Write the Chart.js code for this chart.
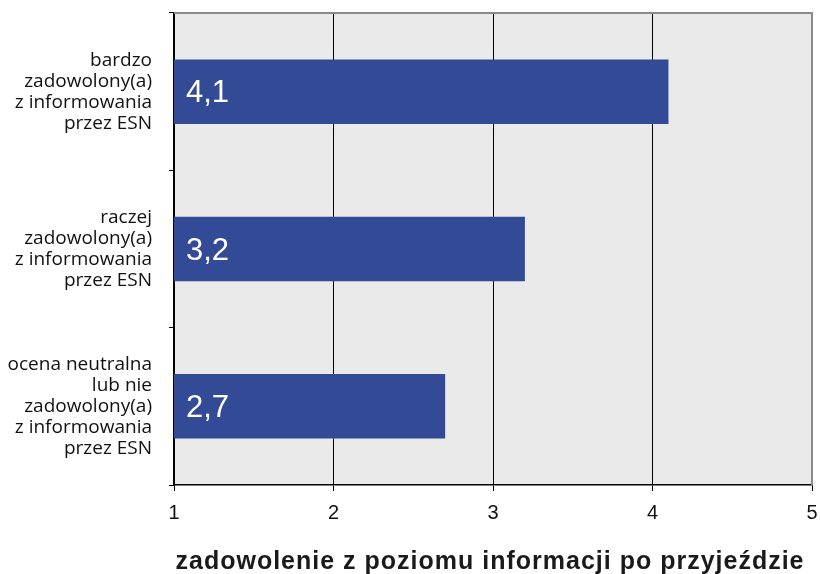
<!DOCTYPE html>
<html>
<head>
<meta charset="utf-8">
<script src="https://cdn.jsdelivr.net/npm/chart.js@4"></script>
<style>
  html, body { margin: 0; padding: 0; background: #fff; }
  #wrap { width: 820px; height: 574px; }
</style>
</head>
<body>
<div id="wrap"><canvas id="myChart" width="820" height="574"></canvas></div>
<script>
// data
const categories = [
    ['bardzo', 'zadowolony(a)', 'z informowania', 'przez ESN'],
    ['raczej', 'zadowolony(a)', 'z informowania', 'przez ESN'],
    ['ocena neutralna', 'lub nie', 'zadowolony(a)', 'z informowania', 'przez ESN']
];
const scores = [4.1, 3.2, 2.7];
const xTicks = [1, 2, 3, 4, 5];
const axisTitle = 'zadowolenie z poziomu informacji po przyjeździe';

const barColor = '#334a96';

// grey plot background + grey top/right frame
const plotFrame = {
    id: 'plotFrame',
    beforeDraw(chart) {
        const { ctx, chartArea: a } = chart;
        ctx.save();
        ctx.fillStyle = '#eaeaea';
        ctx.fillRect(a.left, a.top, a.right - a.left, a.bottom - a.top);
        ctx.restore();
    },
    afterDraw(chart) {
        const { ctx, chartArea: a } = chart;
        ctx.save();
        ctx.strokeStyle = '#8a8a8a';
        ctx.lineWidth = 2;
        ctx.beginPath();
        ctx.moveTo(a.left, a.top);
        ctx.lineTo(a.right, a.top);
        ctx.lineTo(a.right, a.bottom);
        ctx.stroke();
        ctx.restore();
    }
};

// "4,1" etc. written inside the bars
const barValues = {
    id: 'barValues',
    afterDatasetsDraw(chart) {
        const { ctx, chartArea } = chart;
        const meta = chart.getDatasetMeta(0);
        ctx.save();
        ctx.fillStyle = '#ffffff';
        ctx.font = '31px "Liberation Sans", Arial, sans-serif';
        ctx.textAlign = 'left';
        ctx.textBaseline = 'middle';
        meta.data.forEach((bar, i) => {
            const txt = scores[i].toFixed(1).replace('.', ',');
            ctx.fillText(txt, chartArea.left + 12, bar.y + 2);
        });
        ctx.restore();
    }
};

// bold, slightly spaced axis title
const bottomTitle = {
    id: 'bottomTitle',
    afterDraw(chart) {
        const { ctx } = chart;
        ctx.save();
        ctx.fillStyle = '#1a1a1a';
        ctx.font = 'bold 25px "Liberation Sans", Arial, sans-serif';
        ctx.letterSpacing = '1px';
        ctx.textAlign = 'center';
        ctx.textBaseline = 'alphabetic';
        ctx.fillText(axisTitle, 490, 569);
        ctx.restore();
    }
};

const ctx = document.getElementById('myChart').getContext('2d');
new Chart(ctx, {
    type: 'bar',
    data: {
        labels: categories,
        datasets: [{
            data: scores,
            backgroundColor: barColor,
            borderWidth: 0,
            barPercentage: 0.41,
            categoryPercentage: 1
        }]
    },
    options: {
        indexAxis: 'y',
        responsive: false,
        animation: false,
        layout: { padding: { top: 13, right: 8, left: 0, bottom: 0 } },
        plugins: {
            legend: { display: false },
            tooltip: { enabled: false },
            title: { display: false }
        },
        scales: {
            x: {
                min: 1,
                max: 5,
                afterBuildTicks(scale) {
                    scale.ticks = xTicks.map(v => ({ value: v }));
                },
                afterFit(scale) {
                    scale.height = 89;
                    scale.paddingLeft = 0;
                    scale.paddingRight = 0;
                },
                ticks: {
                    color: '#111',
                    padding: 10,
                    font: { family: '"Liberation Sans", Arial, sans-serif', size: 20 }
                },
                grid: {
                    color: c => (c.tick && c.tick.value === 5) ? '#8a8a8a' : '#000',
                    tickColor: '#000',
                    tickLength: 6,
                    lineWidth: 1
                },
                border: { color: '#000', width: 1.5 }
            },
            y: {
                afterFit(scale) {
                    scale.width = 174;
                    scale.paddingTop = 0;
                    scale.paddingBottom = 0;
                },
                ticks: {
                    color: '#111',
                    padding: 17,
                    font: { family: '"Open Sans", sans-serif', size: 19, lineHeight: '21px' }
                },
                grid: {
                    drawOnChartArea: false,
                    drawTicks: true,
                    tickLength: 5,
                    tickColor: '#000',
                    offset: true
                },
                border: { color: '#000', width: 1.5 }
            }
        }
    },
    plugins: [plotFrame, barValues, bottomTitle]
});
</script>
</body>
</html>
